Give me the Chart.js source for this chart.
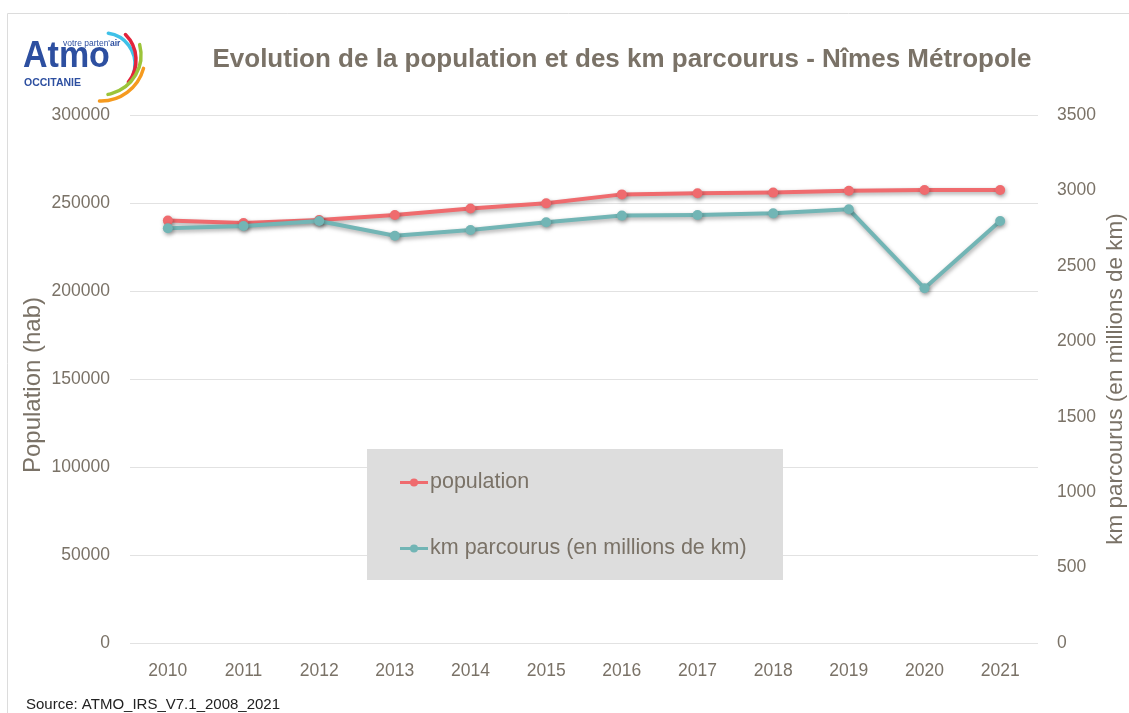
<!DOCTYPE html>
<html>
<head>
<meta charset="utf-8">
<script src="https://cdn.jsdelivr.net/npm/chart.js@4/dist/chart.umd.min.js"></script>
<style>
  html, body { margin: 0; padding: 0; background: #fff; }
  #wrap { position: relative; width: 1129px; height: 713px; }
</style>
</head>
<body>
<div id="wrap"><canvas id="chart"></canvas></div>
<script>
// ============================================
// DATA
// ============================================
const years = ['2010', '2011', '2012', '2013', '2014', '2015', '2016', '2017', '2018', '2019', '2020', '2021'];
const population = [240000, 238600, 240300, 243200, 246900, 249800, 254900, 255500, 255900, 257000, 257400, 257400];
const kmParcourus = [2749, 2764, 2797, 2700, 2738, 2789, 2833, 2837, 2848, 2875, 2351, 2797];

const labelPop = 'population';
const labelKm = 'km parcourus (en millions de km)';
const chartTitle = 'Evolution de la population et des km parcourus - Nîmes Métropole';
const sourceText = 'Source: ATMO_IRS_V7.1_2008_2021';

const FONT = "'Liberation Sans', Arial, sans-serif";
const TEXT_COLOR = '#7a7267';
const RED = '#ef6b6e';
const TEAL = '#72b5b5';

// ============================================
// PLUGINS
// ============================================

// soft drop shadow under the lines, like the office chart
const shadowPlugin = {
    id: 'lineShadow',
    beforeDatasetsDraw(chart) {
        const ctx = chart.ctx;
        ctx.save();
        ctx.shadowColor = 'rgba(0, 0, 0, 0.35)';
        ctx.shadowBlur = 4;
        ctx.shadowOffsetX = 1;
        ctx.shadowOffsetY = 2;
    },
    afterDatasetsDraw(chart) {
        chart.ctx.restore();
    }
};

// frame, logo, title, axis titles, legend box, source
const decorPlugin = {
    id: 'decor',
    afterDraw(chart) {
        const ctx = chart.ctx;
        ctx.save();

        // light frame
        ctx.strokeStyle = '#dcdcdc';
        ctx.lineWidth = 1;
        ctx.beginPath();
        ctx.moveTo(7.5, 713);
        ctx.lineTo(7.5, 13.5);
        ctx.lineTo(1129, 13.5);
        ctx.stroke();

        // logo
        ctx.fillStyle = '#2d4fa0';
        ctx.textAlign = 'left';
        ctx.textBaseline = 'alphabetic';
        ctx.save();
        ctx.translate(23, 67);
        ctx.scale(1, 1.08);
        ctx.font = 'bold 34px ' + FONT;
        ctx.fillText('Atmo', 0, 0);
        ctx.restore();
        ctx.font = 'bold 10.5px ' + FONT;
        ctx.fillText('OCCITANIE', 24, 86);
        ctx.font = '8.5px ' + FONT;
        ctx.fillText("votre parten'", 63, 46);
        const w = ctx.measureText("votre parten'").width;
        ctx.font = 'bold 8.5px ' + FONT;
        ctx.fillText('air', 63 + w, 46);

        const arcs = [
            { c: '#3fc1e8', x: 104, y: 64, r: 31, a0: -82, a1: 15 },
            { c: '#e3243b', x: 100, y: 60, r: 36, a0: -45, a1: 38 },
            { c: '#9cc43a', x: 101, y: 55, r: 40, a0: -15, a1: 80 },
            { c: '#f59a1f', x: 101, y: 57, r: 44, a0: 15, a1: 92 }
        ];
        ctx.lineWidth = 3.5;
        ctx.lineCap = 'round';
        arcs.forEach(a => {
            ctx.strokeStyle = a.c;
            ctx.beginPath();
            ctx.arc(a.x, a.y, a.r, a.a0 * Math.PI / 180, a.a1 * Math.PI / 180);
            ctx.stroke();
        });

        // title
        ctx.fillStyle = TEXT_COLOR;
        ctx.font = 'bold 26px ' + FONT;
        ctx.textAlign = 'center';
        ctx.fillText(chartTitle, 622, 67);

        // axis titles (both read bottom to top)
        ctx.textBaseline = 'middle';
        ctx.save();
        ctx.font = '24px ' + FONT;
        ctx.translate(33, 385);
        ctx.rotate(-Math.PI / 2);
        ctx.fillText('Population (hab)', 0, 0);
        ctx.restore();
        ctx.save();
        ctx.font = '22.5px ' + FONT;
        ctx.translate(1116, 379);
        ctx.rotate(-Math.PI / 2);
        ctx.fillText('km parcourus (en millions de km)', 0, 0);
        ctx.restore();

        // legend box
        ctx.fillStyle = '#dddddd';
        ctx.fillRect(367, 449, 416, 131);
        const items = [
            { label: labelPop, color: RED, y: 482.5 },
            { label: labelKm, color: TEAL, y: 548.5 }
        ];
        ctx.font = '21.5px ' + FONT;
        ctx.textAlign = 'left';
        items.forEach(it => {
            ctx.strokeStyle = it.color;
            ctx.lineWidth = 3;
            ctx.lineCap = 'butt';
            ctx.beginPath();
            ctx.moveTo(400, it.y);
            ctx.lineTo(428, it.y);
            ctx.stroke();
            ctx.fillStyle = it.color;
            ctx.beginPath();
            ctx.arc(414, it.y, 4, 0, Math.PI * 2);
            ctx.fill();
            ctx.fillStyle = TEXT_COLOR;
            ctx.fillText(it.label, 430, it.y);
        });

        // source
        ctx.fillStyle = '#222222';
        ctx.font = '15px ' + FONT;
        ctx.fillText(sourceText, 26, 705);

        ctx.restore();
    }
};

// ============================================
// CHART
// ============================================
const tickFont = { family: FONT, size: 17.5 };
const plainNumber = v => String(v);

new Chart(document.getElementById('chart'), {
    type: 'line',
    data: {
        labels: years,
        datasets: [
            {
                label: labelPop,
                data: population,
                yAxisID: 'y',
                borderColor: RED,
                backgroundColor: RED,
                borderWidth: 4,
                pointRadius: 5,
                pointBorderWidth: 0,
                tension: 0,
                order: 1
            },
            {
                label: labelKm,
                data: kmParcourus,
                yAxisID: 'y1',
                borderColor: TEAL,
                backgroundColor: TEAL,
                borderWidth: 4,
                pointRadius: 5,
                pointBorderWidth: 0,
                tension: 0,
                order: 0
            }
        ]
    },
    options: {
        responsive: true,
        maintainAspectRatio: false,
        animation: false,
        layout: { padding: { top: 115, left: 0, right: 0, bottom: 0 } },
        plugins: {
            legend: { display: false },
            title: { display: false },
            tooltip: { enabled: false }
        },
        scales: {
            x: {
                offset: true,
                grid: { display: false },
                border: { display: false },
                ticks: { color: TEXT_COLOR, font: tickFont, padding: 10, maxRotation: 0 },
                afterFit(s) { s.height = 70; }
            },
            y: {
                position: 'left',
                min: 0,
                max: 300000,
                ticks: { stepSize: 50000, color: TEXT_COLOR, font: tickFont, padding: 20, callback: plainNumber },
                grid: { color: '#e2e2e2', lineWidth: 1, drawTicks: false },
                border: { display: false },
                afterFit(s) { s.width = 130; }
            },
            y1: {
                position: 'right',
                min: 0,
                max: 3500,
                ticks: { stepSize: 500, color: TEXT_COLOR, font: tickFont, padding: 19, callback: plainNumber },
                grid: { display: false, drawTicks: false },
                border: { display: false },
                afterFit(s) { s.width = 91; }
            }
        }
    },
    plugins: [shadowPlugin, decorPlugin]
});
</script>
</body>
</html>
